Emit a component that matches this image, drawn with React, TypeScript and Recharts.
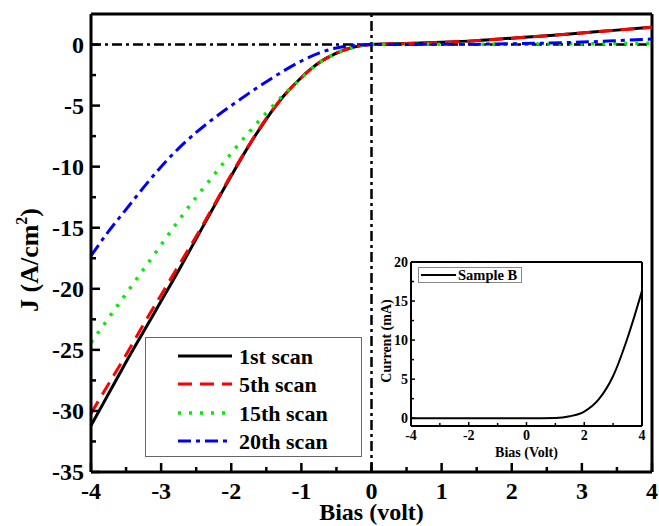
import { LineChart, Line, XAxis, YAxis, ReferenceLine, Label } from 'recharts';

const FONT = '"Liberation Serif", "Times New Roman", serif';

// main panel: J vs bias for successive scans
const bias = [-4, -3.75, -3.5, -3.25, -3, -2.75, -2.5, -2.25, -2, -1.75, -1.5, -1.25, -1, -0.75, -0.5, -0.25, 0, 0.5, 1, 1.5, 2, 2.5, 3, 3.5, 4];
const scan1 = [-31.2, -28.6, -26.0, -23.5, -21.0, -18.5, -15.9, -13.3, -10.75, -8.3, -6.1, -4.2, -2.7, -1.5, -0.7, -0.2, 0, 0.08, 0.18, 0.32, 0.52, 0.72, 0.95, 1.18, 1.42];
const scan5 = [-30.2, -27.8, -25.4, -22.9, -20.5, -18.1, -15.7, -13.2, -10.65, -8.25, -6.05, -4.2, -2.7, -1.5, -0.7, -0.2, 0, 0.08, 0.18, 0.32, 0.52, 0.72, 0.95, 1.18, 1.42];
const scan15 = [-24.4, -22.4, -20.4, -18.4, -16.4, -14.4, -12.5, -10.7, -8.9, -7.2, -5.6, -4.1, -2.75, -1.5, -0.7, -0.2, 0, 0.01, 0.02, 0.03, 0.04, 0.05, 0.06, 0.08, 0.1];
const scan20 = [-17.3, -15.3, -13.5, -11.7, -10.0, -8.5, -7.2, -6.05, -5.0, -4.0, -3.05, -2.15, -1.35, -0.7, -0.28, -0.06, 0, 0.01, 0.02, 0.03, 0.06, 0.12, 0.2, 0.32, 0.45];

const xTicks = [-4, -3.5, -3, -2.5, -2, -1.5, -1, -0.5, 0, 0.5, 1, 1.5, 2, 2.5, 3, 3.5, 4];
const yTicks = [-35, -32.5, -30, -27.5, -25, -22.5, -20, -17.5, -15, -12.5, -10, -7.5, -5, -2.5, 0];

// inset: Sample B current
const insetBias = [-4, -3, -2, -1, 0, 0.5, 1, 1.5, 2, 2.5, 3, 3.5, 3.75, 4];
const insetCurrent = [0, 0, 0, 0, 0, 0, 0.02, 0.25, 0.85, 2.4, 5.4, 10.3, 13.2, 16.3];
const insetXTicks = [-4, -3, -2, -1, 0, 1, 2, 3, 4];
const insetYTicks = [0, 2.5, 5, 7.5, 10, 12.5, 15, 17.5, 20];

const series = [
  { key: 's1', name: '1st scan', values: scan1, color: '#000000', dash: undefined, width: 3 },
  { key: 's5', name: '5th scan', values: scan5, color: '#ff0000', dash: '14 8', width: 3 },
  { key: 's15', name: '15th scan', values: scan15, color: '#00ee00', dash: '3 8', width: 3.5 },
  { key: 's20', name: '20th scan', values: scan20, color: '#0000ff', dash: '13 5 4 5', width: 3 },
];

const mainData = bias.map((b, i) => {
  const row: Record<string, number> = { bias: b };
  series.forEach((s) => (row[s.key] = s.values[i]));
  return row;
});
const insetData = insetBias.map((b, i) => ({ bias: b, current: insetCurrent[i] }));

const MainXTick = ({ x, y, payload }: any) => {
  const major = Number.isInteger(payload.value);
  return (
    <g>
      <line x1={x} x2={x} y1={y} y2={y - (major ? 9 : 5)} stroke="#000" strokeWidth={2.5} />
      {major && (
        <text x={x} y={y + 27} textAnchor="middle" fontSize={24} fontWeight="bold" fontFamily={FONT} fill="#000">
          {payload.value}
        </text>
      )}
    </g>
  );
};

const MainYTick = ({ x, y, payload }: any) => {
  const major = payload.value % 5 === 0;
  return (
    <g>
      <line x1={x} x2={x + (major ? 9 : 5)} y1={y} y2={y} stroke="#000" strokeWidth={2.5} />
      {major && (
        <text x={x - 7} y={y + 8} textAnchor="end" fontSize={24} fontWeight="bold" fontFamily={FONT} fill="#000">
          {payload.value}
        </text>
      )}
    </g>
  );
};

const InsetXTick = ({ x, y, payload }: any) => {
  const major = payload.value % 2 === 0;
  return (
    <g>
      <line x1={x} x2={x} y1={y} y2={y - (major ? 4 : 3)} stroke="#000" strokeWidth={1.5} />
      {major && (
        <text x={x} y={y + 14} textAnchor="middle" fontSize={14} fontWeight="bold" fontFamily={FONT} fill="#000">
          {payload.value}
        </text>
      )}
    </g>
  );
};

const InsetYTick = ({ x, y, payload }: any) => {
  const major = payload.value % 5 === 0;
  return (
    <g>
      <line x1={x} x2={x + (major ? 4 : 3)} y1={y} y2={y} stroke="#000" strokeWidth={1.5} />
      {major && (
        <text x={x - 3} y={y + 5} textAnchor="end" fontSize={14} fontWeight="bold" fontFamily={FONT} fill="#000">
          {payload.value}
        </text>
      )}
    </g>
  );
};

const JTitle = ({ viewBox }: any) => {
  const cx = viewBox.x + 38;
  const cy = viewBox.y + viewBox.height / 2 + 17;
  return (
    <text x={cx} y={cy} transform={`rotate(-90 ${cx} ${cy})`} textAnchor="middle" fontSize={26} fontWeight="bold" fontFamily={FONT} fill="#000">
      J (A/cm<tspan dy={-11} fontSize={16}>2</tspan>
      <tspan dy={11}>)</tspan>
    </text>
  );
};

const CurrentTitle = ({ viewBox }: any) => {
  const cx = viewBox.x + 30;
  const cy = viewBox.y + viewBox.height / 2 - 3;
  return (
    <text x={cx} y={cy} transform={`rotate(-90 ${cx} ${cy})`} textAnchor="middle" fontSize={14} fontWeight="bold" fontFamily={FONT} fill="#000">
      Current (mA)
    </text>
  );
};

function MainLegend() {
  return (
    <div
      style={{
        position: 'absolute',
        left: 145,
        top: 337,
        width: 217,
        height: 120,
        border: '1.5px solid #666',
        background: '#fff',
        boxSizing: 'border-box',
      }}
    >
      {series.map((s, i) => (
        <div key={s.key} style={{ position: 'absolute', left: 0, top: 5 + i * 28.3, height: 28, display: 'flex', alignItems: 'center' }}>
          <svg width={92} height={28} style={{ display: 'block' }}>
            <line x1={32} x2={86} y1={13} y2={13} stroke={s.color} strokeWidth={s.width} strokeDasharray={s.dash} />
          </svg>
          <span style={{ fontFamily: FONT, fontWeight: 'bold', fontSize: 22, color: '#000', lineHeight: '28px', marginLeft: 1 }}>
            {s.name}
          </span>
        </div>
      ))}
    </div>
  );
}

function InsetLegend() {
  return (
    <div
      style={{
        position: 'absolute',
        left: 418,
        top: 267,
        width: 104,
        height: 16,
        border: '1px solid #888',
        background: '#fff',
        boxSizing: 'border-box',
        display: 'flex',
        alignItems: 'center',
      }}
    >
      <svg width={38} height={14} style={{ display: 'block' }}>
        <line x1={2} x2={37} y1={7} y2={7} stroke="#000" strokeWidth={2} />
      </svg>
      <span style={{ fontFamily: FONT, fontWeight: 'bold', fontSize: 14.5, lineHeight: '14px', marginLeft: 1 }}>Sample B</span>
    </div>
  );
}

export default function App() {
  return (
    <div style={{ position: 'absolute', left: 0, top: 0, width: 659, height: 526, background: '#fff' }}>
      <LineChart width={659} height={526} data={mainData} margin={{ top: 14, right: 7, bottom: 0, left: 0 }}>
        <XAxis
          dataKey="bias"
          type="number"
          domain={[-4, 4]}
          ticks={xTicks}
          interval={0}
          height={54}
          tickSize={0}
          tickMargin={0}
          tickLine={false}
          tick={<MainXTick />}
          axisLine={{ stroke: '#000', strokeWidth: 3 }}
        >
          <Label value="Bias (volt)" position="insideBottom" offset={6} style={{ fontFamily: FONT, fontWeight: 'bold', fontSize: 24, fill: '#000' }} />
        </XAxis>
        <YAxis
          type="number"
          domain={[-35, 2.5]}
          ticks={yTicks}
          interval={0}
          width={91}
          tickSize={0}
          tickMargin={0}
          tickLine={false}
          tick={<MainYTick />}
          axisLine={{ stroke: '#000', strokeWidth: 3 }}
          allowDataOverflow
        >
          <Label content={<JTitle />} />
        </YAxis>
        <ReferenceLine y={2.5} stroke="#000" strokeWidth={3} />
        <ReferenceLine x={4} stroke="#000" strokeWidth={3} />
        <ReferenceLine y={0} stroke="#000" strokeWidth={2.5} strokeDasharray="10 4 3 4" />
        <ReferenceLine x={0} stroke="#000" strokeWidth={2.5} strokeDasharray="10 4 3 4" />
        {series.map((s) => (
          <Line
            key={s.key}
            dataKey={s.key}
            name={s.name}
            type="monotone"
            stroke={s.color}
            strokeWidth={s.width}
            strokeDasharray={s.dash}
            dot={false}
            isAnimationActive={false}
          />
        ))}
      </LineChart>

      <MainLegend />

      <div style={{ position: 'absolute', left: 361, top: 254, width: 293, height: 212 }}>
        <LineChart width={293} height={212} data={insetData} margin={{ top: 8, right: 12, bottom: 0, left: 0 }}>
          <XAxis
            dataKey="bias"
            type="number"
            domain={[-4, 4]}
            ticks={insetXTicks}
            interval={0}
            height={40}
            tickSize={0}
            tickMargin={0}
            tickLine={false}
            tick={<InsetXTick />}
            axisLine={{ stroke: '#000', strokeWidth: 2 }}
          >
            <Label value="Bias (Volt)" position="insideBottom" offset={9} style={{ fontFamily: FONT, fontWeight: 'bold', fontSize: 14, fill: '#000' }} />
          </XAxis>
          <YAxis
            type="number"
            domain={[-1, 20]}
            ticks={insetYTicks}
            interval={0}
            width={50}
            tickSize={0}
            tickMargin={0}
            tickLine={false}
            tick={<InsetYTick />}
            axisLine={{ stroke: '#000', strokeWidth: 2 }}
            allowDataOverflow
          >
            <Label content={<CurrentTitle />} />
          </YAxis>
          <ReferenceLine y={20} stroke="#000" strokeWidth={2} />
          <ReferenceLine x={4} stroke="#000" strokeWidth={2} />
          <Line dataKey="current" name="Sample B" type="monotone" stroke="#000" strokeWidth={2} dot={false} isAnimationActive={false} />
        </LineChart>
      </div>

      <InsetLegend />
    </div>
  );
}
